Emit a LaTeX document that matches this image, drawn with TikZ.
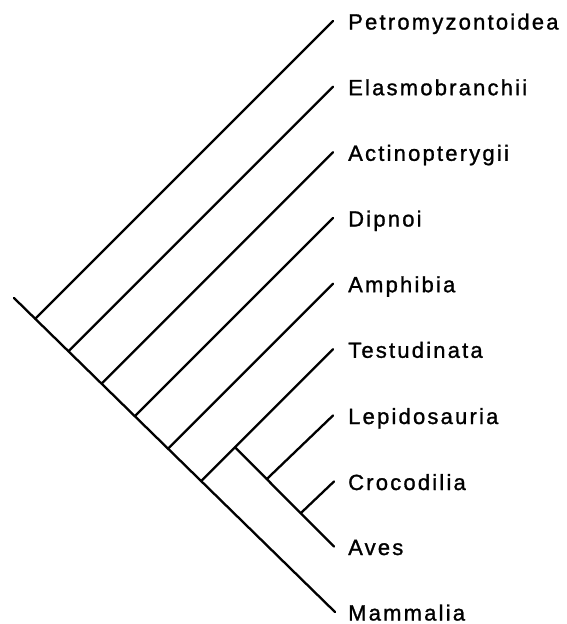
\documentclass[tikz,border=0pt]{standalone}
\usepackage{fontspec}
\setmainfont{Liberation Sans}[LetterSpace=10.0,FakeBold=1.2]
\usetikzlibrary{calc}
\begin{document}
\begin{tikzpicture}[x=1pt,y=-1pt,
  branch/.style={line width=2.3pt,line cap=round,black},
  taxon/.style={anchor=base west,inner sep=0pt,font=\fontsize{22}{26}\selectfont}]
\useasboundingbox (0,0) rectangle (567,624);
% tips
\coordinate (T0) at (333,21);
\coordinate (T1) at (333,86.7);
\coordinate (T2) at (333,152.3);
\coordinate (T3) at (333,218);
\coordinate (T4) at (333,283.7);
\coordinate (T5) at (333,349.3);
\coordinate (T6) at (333,415.5);
\coordinate (T7) at (334,481.5);
\coordinate (T8) at (334,546.5);
\coordinate (T9) at (335,612);
% root and internal nodes
\coordinate (R) at (14,298);
\coordinate (n1) at ($(R)!0.0661!(T9)$);
\coordinate (n2) at ($(R)!0.1696!(T9)$);
\coordinate (n3) at ($(R)!0.2730!(T9)$);
\coordinate (n4) at ($(R)!0.3764!(T9)$);
\coordinate (n5) at ($(R)!0.4798!(T9)$);
\coordinate (n6) at ($(R)!0.5832!(T9)$);
\coordinate (n7) at ($(n6)!0.2565!(T5)$);
\coordinate (n8) at ($(n7)!0.3205!(T8)$);
\coordinate (n9) at ($(n7)!0.664!(T8)$);
% branches
\draw[branch] (R) -- (T9);
\draw[branch] (n1) -- (T0);
\draw[branch] (n2) -- (T1);
\draw[branch] (n3) -- (T2);
\draw[branch] (n4) -- (T3);
\draw[branch] (n5) -- (T4);
\draw[branch] (n6) -- (T5);
\draw[branch] (n7) -- (T8);
\draw[branch] (n8) -- (T6);
\draw[branch] (n9) -- (T7);
% labels
\node[taxon] (L0) at (348,29.5) {Petromyzontoidea};
\node[taxon] (L1) at (348,95.2) {Elasmobranchii};
\node[taxon] (L2) at (348,160.8) {Actinopterygii};
\node[taxon] (L3) at (348,226.5) {Dipnoi};
\node[taxon] (L4) at (348,292.2) {Amphibia};
\node[taxon] (L5) at (348,357.8) {Testudinata};
\node[taxon] (L6) at (348,424) {Lepidosauria};
\node[taxon] (L7) at (348,490) {Crocodilia};
\node[taxon] (L8) at (348,555) {Aves};
\node[taxon] (L9) at (348,620.5) {Mammalia};
\end{tikzpicture}
\end{document}
